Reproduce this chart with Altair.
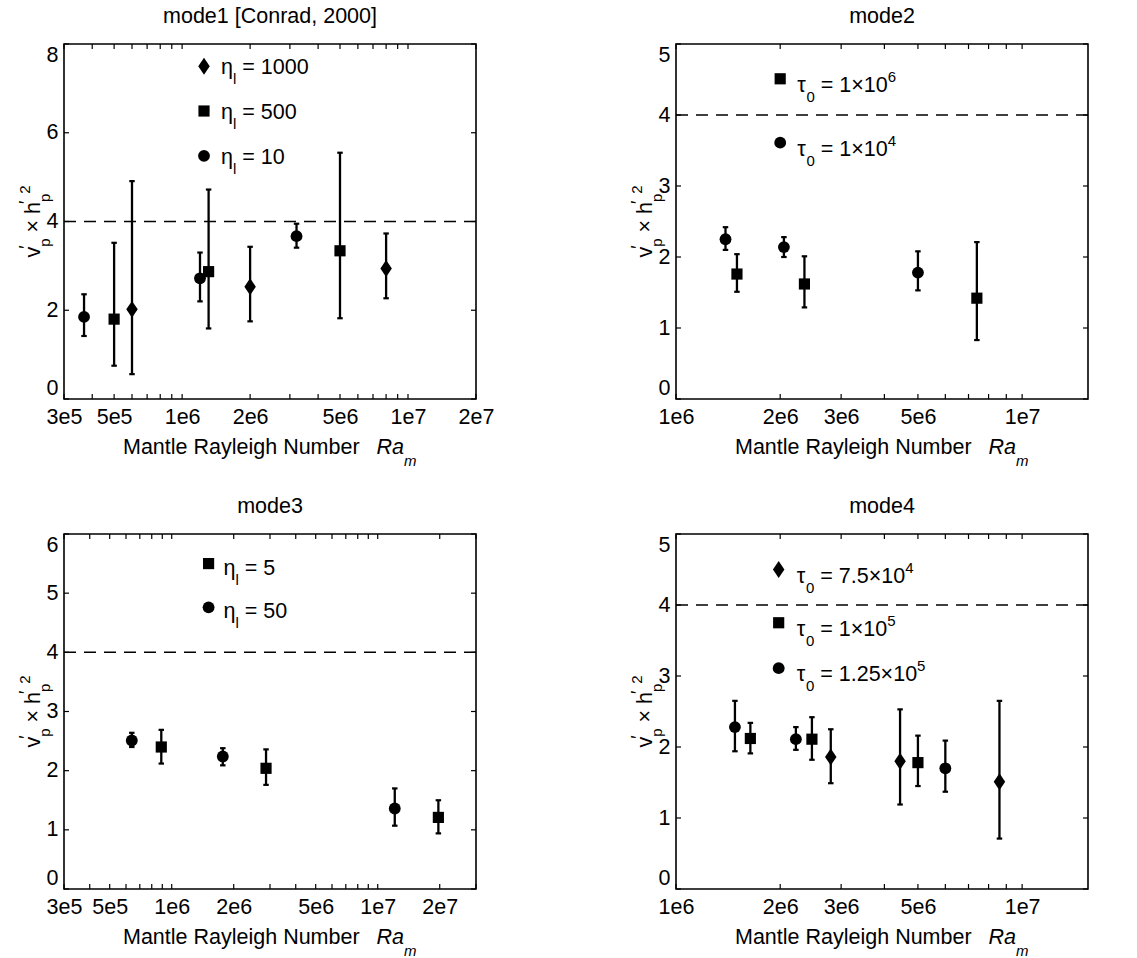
import altair as alt
import pandas as pd

FONT = "Liberation Sans"
W, H = 412, 355
FS, FS_SMALL = 21.5, 15

# ---------------- data ----------------
# mode1 [Conrad, 2000]
m1_eta1000_ra = [6.0e5, 2.0e6, 8.0e6]
m1_eta1000_val = [2.02, 2.53, 2.94]
m1_eta1000_lo = [0.56, 1.75, 2.27]
m1_eta1000_hi = [4.91, 3.43, 3.73]

m1_eta500_ra = [5.0e5, 1.31e6, 5.0e6]
m1_eta500_val = [1.80, 2.87, 3.34]
m1_eta500_lo = [0.75, 1.59, 1.82]
m1_eta500_hi = [3.52, 4.72, 5.55]

m1_eta10_ra = [3.68e5, 1.20e6, 3.21e6]
m1_eta10_val = [1.85, 2.72, 3.67]
m1_eta10_lo = [1.42, 2.20, 3.41]
m1_eta10_hi = [2.36, 3.30, 3.95]

# mode2
m2_tau1e6_ra = [1.50e6, 2.35e6, 7.4e6]
m2_tau1e6_val = [1.76, 1.62, 1.42]
m2_tau1e6_lo = [1.51, 1.29, 0.83]
m2_tau1e6_hi = [2.04, 2.01, 2.21]

m2_tau1e4_ra = [1.39e6, 2.05e6, 5.0e6]
m2_tau1e4_val = [2.25, 2.14, 1.78]
m2_tau1e4_lo = [2.10, 2.00, 1.53]
m2_tau1e4_hi = [2.42, 2.28, 2.08]

# mode3
m3_eta5_ra = [8.9e5, 2.87e6, 1.97e7]
m3_eta5_val = [2.40, 2.04, 1.21]
m3_eta5_lo = [2.12, 1.76, 0.94]
m3_eta5_hi = [2.69, 2.36, 1.50]

m3_eta50_ra = [6.4e5, 1.77e6, 1.21e7]
m3_eta50_val = [2.51, 2.24, 1.36]
m3_eta50_lo = [2.40, 2.09, 1.07]
m3_eta50_hi = [2.64, 2.38, 1.70]

# mode4
m4_tau75e3_ra = [2.80e6, 4.44e6, 8.6e6]
m4_tau75e3_val = [1.86, 1.80, 1.51]
m4_tau75e3_lo = [1.49, 1.19, 0.71]
m4_tau75e3_hi = [2.25, 2.53, 2.65]

m4_tau1e5_ra = [1.64e6, 2.47e6, 5.0e6]
m4_tau1e5_val = [2.12, 2.11, 1.78]
m4_tau1e5_lo = [1.91, 1.82, 1.45]
m4_tau1e5_hi = [2.34, 2.42, 2.16]

m4_tau125e5_ra = [1.48e6, 2.22e6, 6.0e6]
m4_tau125e5_val = [2.28, 2.11, 1.70]
m4_tau125e5_lo = [1.94, 1.96, 1.37]
m4_tau125e5_hi = [2.65, 2.28, 2.09]

REFERENCE_LEVEL = [4.0]

# axis labels / tick positions
X_LABELS_WIDE = [3e5, 5e5, 1e6, 2e6, 5e6, 1e7, 2e7]
X_LABELS_NARROW = [1e6, 2e6, 3e6, 5e6, 1e7]
X_TICKS_WIDE = [3e5, 4e5, 5e5, 6e5, 7e5, 8e5, 9e5, 1e6, 2e6, 3e6, 4e6, 5e6,
                6e6, 7e6, 8e6, 9e6, 1e7, 2e7]
X_TICKS_WIDER = [3e5, 4e5, 5e5, 6e5, 7e5, 8e5, 9e5, 1e6, 2e6, 3e6, 4e6, 5e6,
                 6e6, 7e6, 8e6, 9e6, 1e7, 2e7, 3e7]
X_TICKS_NARROW = [1e6, 2e6, 3e6, 4e6, 5e6, 6e6, 7e6, 8e6, 9e6, 1e7]
Y_LABELS_8 = [0, 2, 4, 6, 8]
Y_LABELS_5 = [0, 1, 2, 3, 4, 5]
Y_LABELS_6 = [0, 1, 2, 3, 4, 5, 6]

# legend labels
m1_legend_values = ["1000", "500", "10"]
m2_legend_mant = ["1", "1"]
m2_legend_exp = ["6", "4"]
m3_legend_values = ["5", "50"]
m4_legend_mant = ["7.5", "1", "1.25"]
m4_legend_exp = ["4", "5", "5"]

# ---------------- styling helpers ----------------
DIAMOND = "M0,-1L0.68,0L0,1L-0.68,0Z"
MARKERS = {"circle": ("circle", 140), "square": ("square", 125), "diamond": (DIAMOND, 285)}

KINDS = {
    "n": (FS, 0, "normal"),
    "sub": (FS_SMALL, 10, "normal"),
    "sup": (FS_SMALL, -10, "normal"),
    "i": (FS, 0, "italic"),
    "isub": (FS_SMALL, 12, "italic"),
    "prime": (18, -8, "normal"),
}
CW = {" ": 0.278, ".": 0.278, "=": 0.584, "×": 0.584, "η": 0.556, "τ": 0.43,
      "l": 0.222, "v": 0.5, "h": 0.556, "p": 0.556, "′": 0.19, "R": 0.722,
      "a": 0.556, "m": 0.833, "M": 0.833, "n": 0.556, "t": 0.278, "e": 0.556,
      "y": 0.5, "i": 0.222, "g": 0.556, "N": 0.722, "u": 0.556, "b": 0.556,
      "r": 0.333}


def tw(s, fs):
    return fs * sum(CW.get(c, 0.556) for c in s)


ONE = pd.DataFrame({"k": [0]})


def series_df(ra, val, lo, hi):
    return pd.DataFrame({"ra": ra, "val": val, "lo": lo, "hi": hi})


def build_panel(cfg):
    xscale = alt.Scale(type="log", domain=cfg["xdomain"], nice=False)
    yscale = alt.Scale(domain=[0, cfg["ymax"]], nice=False, zero=True)
    xaxis = alt.Axis(values=cfg["xlabels"],
                     labelExpr="replace(format(datum.value, '.0e'), 'e+', 'e')",
                     title=None, ticks=False, tickSize=0, domain=False, grid=False,
                     labelFont=FONT, labelFontSize=FS, labelColor="black",
                     labelPadding=7, labelOverlap=False, labelFlush=False)
    yaxis = alt.Axis(values=cfg["ylabels"], format="d", title=None, ticks=False,
                     tickSize=0, domain=False, grid=False, labelFont=FONT,
                     labelFontSize=FS, labelColor="black", labelPadding=6,
                     labelOverlap=False, labelFlush=True)

    def X(f):
        return alt.X(f, type="quantitative", scale=xscale, axis=xaxis)

    def Y(f):
        return alt.Y(f, type="quantitative", scale=yscale, axis=yaxis)

    layers = []
    # dashed reference level
    layers.append(alt.Chart(pd.DataFrame({"level": REFERENCE_LEVEL}))
                  .mark_rule(color="black", strokeWidth=1.5, strokeDash=[12, 8])
                  .encode(y=Y("level")))
    # series: error bars, caps, markers
    for marker, df in cfg["series"]:
        base = alt.Chart(df)
        layers.append(base.mark_rule(color="black", strokeWidth=2.3)
                      .encode(x=X("ra"), y=Y("lo"), y2=alt.Y2("hi")))
        layers.append(base.transform_fold(["lo", "hi"], as_=["end", "capv"])
                      .mark_point(shape="M-1,0L1,0", size=30, strokeWidth=2.2,
                                  filled=False, color="black", opacity=1)
                      .encode(x=X("ra"), y=Y("capv")))
        shp, sz = MARKERS[marker]
        layers.append(base.mark_point(shape=shp, size=sz, filled=True, color="black",
                                      opacity=1, strokeWidth=0)
                      .encode(x=X("ra"), y=Y("val")))
    # in-plot legend
    leg = cfg["legend"]
    for (marker, ly, pieces) in leg["entries"]:
        ldf = pd.DataFrame({"lx": [leg["x"]], "ly": [ly]})
        lb = alt.Chart(ldf)
        shp, sz = MARKERS[marker]
        layers.append(lb.mark_point(shape=shp, size=sz, filled=True, color="black",
                                    opacity=1, strokeWidth=0)
                      .encode(x=X("lx"), y=Y("ly")))
        cx = leg["dx"]
        for text, kind in pieces:
            fs, shift, style = KINDS[kind]
            stripped = text.lstrip(" ")
            cx += tw(text[: len(text) - len(stripped)], fs)
            layers.append(lb.mark_text(text=stripped, font=FONT, fontSize=fs,
                                       fontStyle=style, color="black", align="left",
                                       baseline="alphabetic", dx=cx,
                                       dy=leg["dy"] + shift)
                          .encode(x=X("lx"), y=Y("ly")))
            cx += tw(stripped, fs)
    # inward ticks on all four sides
    xt = alt.Chart(pd.DataFrame({"t": cfg["xticks"]}))
    layers.append(xt.mark_rule(color="black", strokeWidth=1.2)
                  .encode(x=X("t"), y=alt.value(H), y2=alt.value(H - 5)))
    layers.append(xt.mark_rule(color="black", strokeWidth=1.2)
                  .encode(x=X("t"), y=alt.value(0), y2=alt.value(5)))
    yt = alt.Chart(pd.DataFrame({"t": cfg["ylabels"]}))
    layers.append(yt.mark_rule(color="black", strokeWidth=1.2)
                  .encode(y=Y("t"), x=alt.value(0), x2=alt.value(5)))
    layers.append(yt.mark_rule(color="black", strokeWidth=1.2)
                  .encode(y=Y("t"), x=alt.value(W), x2=alt.value(W - 5)))

    one = alt.Chart(ONE)
    # panel title
    layers.append(one.mark_text(text=cfg["title"], font=FONT, fontSize=FS, color="black",
                                align="center", baseline="alphabetic")
                  .encode(x=alt.value(W / 2), y=alt.value(-21)))
    # x-axis title: Mantle Rayleigh Number  Ra_m
    cx = 59
    for text, kind in [("Mantle Rayleigh Number", "n"), ("Ra", "i"), ("m", "isub")]:
        fs, shift, style = KINDS[kind]
        layers.append(one.mark_text(text=text, font=FONT, fontSize=fs, fontStyle=style,
                                    color="black", align="left", baseline="alphabetic")
                      .encode(x=alt.value(cx), y=alt.value(H + 55 + shift)))
        cx += tw(text, fs) + (17 if kind == "n" else 0)
    # y-axis title: v'_p x h'_p^2 (rotated)
    ypieces = [("v", "n", True), ("′", "prime", False), ("p", "sub", True),
               (" × ", "n", True), ("h", "n", True), ("′", "prime", False),
               ("p", "sub", True), ("2", "sup", True)]
    total = sum(tw(t, KINDS[k][0]) for t, k, adv in ypieces if adv)
    y0 = H / 2 + total / 2
    cum = 0.0
    for text, kind, adv in ypieces:
        fs, shift, style = KINDS[kind]
        stripped = text.strip(" ")
        lead = tw(text[: len(text) - len(text.lstrip(" "))], fs)
        pos = cum + lead - (2 if not adv else 0)
        layers.append(one.mark_text(text=stripped, font=FONT, fontSize=fs, angle=270,
                                    color="black", align="left", baseline="alphabetic")
                      .encode(x=alt.value(-24 + shift), y=alt.value(y0 - pos)))
        if adv:
            cum += tw(text, fs)

    return alt.layer(*layers).properties(width=W, height=H)


ETA = lambda v: [("η", "n"), ("l", "sub"), (" = " + v, "n")]
TAU = lambda m, e: [("τ", "n"), ("0", "sub"), (" = " + m + "×10", "n"), (e, "sup")]

panels = [
    dict(title="mode1 [Conrad, 2000]", xdomain=[3e5, 2e7], xlabels=X_LABELS_WIDE,
         xticks=X_TICKS_WIDE, ymax=8, ylabels=Y_LABELS_8,
         series=[("circle", series_df(m1_eta10_ra, m1_eta10_val, m1_eta10_lo, m1_eta10_hi)),
                 ("square", series_df(m1_eta500_ra, m1_eta500_val, m1_eta500_lo, m1_eta500_hi)),
                 ("diamond", series_df(m1_eta1000_ra, m1_eta1000_val, m1_eta1000_lo, m1_eta1000_hi))],
         legend=dict(x=1.25e6, dx=17, dy=8,
                     entries=[("diamond", 7.50, ETA(m1_legend_values[0])),
                              ("square", 6.49, ETA(m1_legend_values[1])),
                              ("circle", 5.48, ETA(m1_legend_values[2]))])),
    dict(title="mode2", xdomain=[1e6, 1.55e7], xlabels=X_LABELS_NARROW,
         xticks=X_TICKS_NARROW, ymax=5, ylabels=Y_LABELS_5,
         series=[("circle", series_df(m2_tau1e4_ra, m2_tau1e4_val, m2_tau1e4_lo, m2_tau1e4_hi)),
                 ("square", series_df(m2_tau1e6_ra, m2_tau1e6_val, m2_tau1e6_lo, m2_tau1e6_hi))],
         legend=dict(x=2.0e6, dx=17, dy=13,
                     entries=[("square", 4.51, TAU(m2_legend_mant[0], m2_legend_exp[0])),
                              ("circle", 3.61, TAU(m2_legend_mant[1], m2_legend_exp[1]))])),
    dict(title="mode3", xdomain=[3e5, 3e7], xlabels=X_LABELS_WIDE,
         xticks=X_TICKS_WIDER, ymax=6, ylabels=Y_LABELS_6,
         series=[("circle", series_df(m3_eta50_ra, m3_eta50_val, m3_eta50_lo, m3_eta50_hi)),
                 ("square", series_df(m3_eta5_ra, m3_eta5_val, m3_eta5_lo, m3_eta5_hi))],
         legend=dict(x=1.51e6, dx=15, dy=11,
                     entries=[("square", 5.50, ETA(m3_legend_values[0])),
                              ("circle", 4.76, ETA(m3_legend_values[1]))])),
    dict(title="mode4", xdomain=[1e6, 1.55e7], xlabels=X_LABELS_NARROW,
         xticks=X_TICKS_NARROW, ymax=5, ylabels=Y_LABELS_5,
         series=[("circle", series_df(m4_tau125e5_ra, m4_tau125e5_val, m4_tau125e5_lo, m4_tau125e5_hi)),
                 ("square", series_df(m4_tau1e5_ra, m4_tau1e5_val, m4_tau1e5_lo, m4_tau1e5_hi)),
                 ("diamond", series_df(m4_tau75e3_ra, m4_tau75e3_val, m4_tau75e3_lo, m4_tau75e3_hi))],
         legend=dict(x=1.98e6, dx=18, dy=13,
                     entries=[("diamond", 4.50, TAU(m4_legend_mant[0], m4_legend_exp[0])),
                              ("square", 3.75, TAU(m4_legend_mant[1], m4_legend_exp[1])),
                              ("circle", 3.11, TAU(m4_legend_mant[2], m4_legend_exp[2]))])),
]

charts = [build_panel(p) for p in panels]

chart = (
    alt.concat(*charts, columns=2, spacing={"row": 135, "column": 200}, bounds="flush")
    .properties(background="white",
                padding={"left": 17, "top": 5, "right": 5, "bottom": 5})
    .configure_view(stroke="black", strokeWidth=1.6)
)

chart.save("out.html", embed_options={"renderer": "svg", "actions": False})
